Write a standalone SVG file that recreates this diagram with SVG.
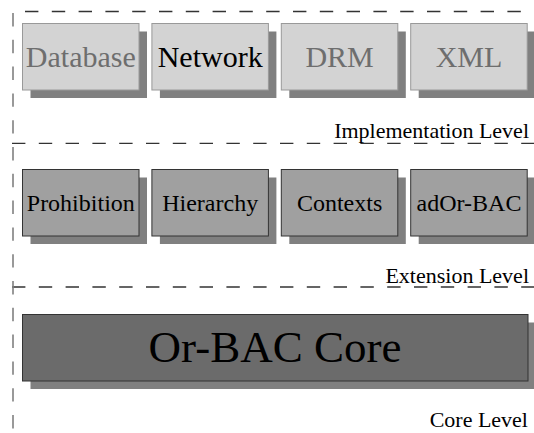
<svg xmlns="http://www.w3.org/2000/svg" width="534" height="433" viewBox="0 0 534 433">
<style>
  .dash { stroke:#333333; stroke-width:1.3; stroke-dasharray:13.4 13.4; fill:none; }
  .vdash { stroke:#808080; stroke-width:1.6; stroke-dasharray:13.4 13.4; fill:none; }
  .shadow { fill:#808080; stroke:none; }
  .impl { fill:#d3d3d3; stroke:#999999; stroke-width:1; }
  .ext { fill:#a0a0a0; stroke:#333333; stroke-width:1; }
  .core { fill:#6b6b6b; stroke:#333333; stroke-width:1; }
  .t30 { font-size:30px; text-anchor:middle; }
  .t24 { font-size:24px; text-anchor:middle; fill:#000; }
  .t45 { font-size:45px; text-anchor:middle; fill:#000; }
  .lvl { font-size:22px; text-anchor:end; fill:#000; }
  .grey { fill:#6e6e6e; }
  .black { fill:#000; }
</style>
<rect width="534" height="433" fill="#ffffff"/>
<g id="layers">
  <line class="dash" x1="25" y1="11.5" x2="534" y2="11.5"/>
  <line class="dash" x1="12" y1="143.3" x2="534" y2="143.3"/>
  <line class="dash" x1="12" y1="287" x2="534" y2="287"/>
  <line class="vdash" x1="13" y1="13" x2="13" y2="433"/>
</g>
<g id="connectors"></g>
<g font-family="'Liberation Serif', 'DejaVu Serif', 'Times New Roman', serif">
<g id="database">
  <rect class="shadow" x="30.5" y="31.5" width="116.5" height="66.5"/>
  <rect class="impl" x="22.5" y="23.5" width="116.5" height="66.5"/>
  <text class="t30 grey" x="80.8" y="67">Database</text>
</g>
<g id="network">
  <rect class="shadow" x="159.9" y="31.5" width="116.5" height="66.5"/>
  <rect class="impl" x="151.9" y="23.5" width="116.5" height="66.5"/>
  <text class="t30 black" x="210.2" y="67">Network</text>
</g>
<g id="drm">
  <rect class="shadow" x="289.3" y="31.5" width="116.5" height="66.5"/>
  <rect class="impl" x="281.3" y="23.5" width="116.5" height="66.5"/>
  <text class="t30 grey" x="339.6" y="67">DRM</text>
</g>
<g id="xml">
  <rect class="shadow" x="418.7" y="31.5" width="116.5" height="66.5"/>
  <rect class="impl" x="410.7" y="23.5" width="116.5" height="66.5"/>
  <text class="t30 grey" x="469" y="67">XML</text>
</g>
<text id="impl-label" class="lvl" x="529" y="138">Implementation Level</text>
<g id="prohibition">
  <rect class="shadow" x="30.5" y="177.5" width="116.5" height="66.5"/>
  <rect class="ext" x="22.5" y="169.5" width="116.5" height="66.5"/>
  <text class="t24" x="80.8" y="211">Prohibition</text>
</g>
<g id="hierarchy">
  <rect class="shadow" x="159.9" y="177.5" width="116.5" height="66.5"/>
  <rect class="ext" x="151.9" y="169.5" width="116.5" height="66.5"/>
  <text class="t24" x="210.2" y="211">Hierarchy</text>
</g>
<g id="contexts">
  <rect class="shadow" x="289.3" y="177.5" width="116.5" height="66.5"/>
  <rect class="ext" x="281.3" y="169.5" width="116.5" height="66.5"/>
  <text class="t24" x="339.6" y="211">Contexts</text>
</g>
<g id="adorbac">
  <rect class="shadow" x="418.7" y="177.5" width="116.5" height="66.5"/>
  <rect class="ext" x="410.7" y="169.5" width="116.5" height="66.5"/>
  <text class="t24" x="469" y="211">adOr-BAC</text>
</g>
<text id="ext-label" class="lvl" x="529" y="283">Extension Level</text>
<g id="orbac-core">
  <rect class="shadow" x="30.5" y="322.5" width="505.5" height="66.5"/>
  <rect class="core" x="22.5" y="314.5" width="505.5" height="66.5"/>
  <text class="t45" x="275" y="362">Or-BAC Core</text>
</g>
<text id="core-label" class="lvl" x="528" y="427">Core Level</text>
</g>
</svg>
